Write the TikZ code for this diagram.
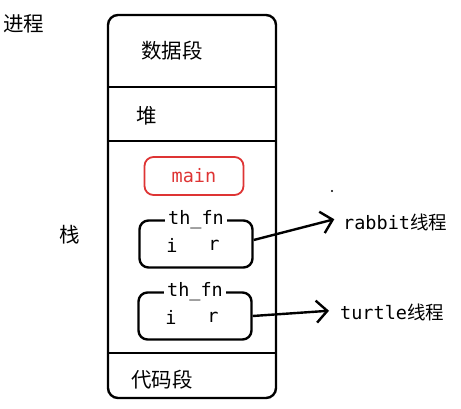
\documentclass[tikz,border=0pt]{standalone}
\usepackage{fontspec}
\setmonofont{DejaVu Sans Mono}
\newfontfamily\cjk{Noto Sans CJK SC}
\usetikzlibrary{arrows.meta}

\definecolor{mainred}{RGB}{222,52,52}

\tikzset{
    seglabel/.style={font=\cjk\fontsize{20.5}{24}\selectfont, inner sep=0pt},
    codetext/.style={font=\ttfamily\fontsize{18.5}{20}\selectfont, inner sep=0pt},
    framebox/.style={draw, line width=2.4pt, rounded corners=9pt,
        minimum width=113pt, minimum height=47pt},
    threadarrow/.style={-{Straight Barb[length=11pt, width=22pt]}, line width=2.4pt}
}

\begin{document}
\begin{tikzpicture}[x=1pt, y=-1pt]
    \useasboundingbox (0,0) rectangle (461,409);
    % memory layout of the process
    \coordinate (TL) at (108,15);
    \coordinate (BR) at (276,398);
    \draw [line width=2.4pt, rounded corners=10pt] (TL) rectangle (BR);
    \coordinate (D1) at (108,87);  \coordinate (D1') at (276,87);
    \coordinate (D2) at (108,141); \coordinate (D2') at (276,141);
    \coordinate (D3) at (108,353); \coordinate (D3') at (276,353);
    \draw [line width=2.4pt] (D1) -- (D1') (D2) -- (D2') (D3) -- (D3');

    \node [seglabel] (proc) at (24,24) {进程};
    \node [seglabel] (data) at (172,51) {数据段};
    \node [seglabel] (heap) at (147,116) {堆};
    \node [seglabel] (stack) at (70,235) {栈};
    \node [seglabel] (code) at (162,380) {代码段};

    % stack frames
    \node [draw=mainred, line width=1.8pt, rounded corners=9pt, minimum width=99pt,
        minimum height=38pt, codetext, text=mainred] (main) at (194,176) {main};
    \node [framebox] (fn1) at (196,244) {};
    \node [framebox] (fn2) at (195,316) {};
    \foreach \f in {fn1, fn2} {
        \node [codetext, fill=white, inner xsep=3pt] at (\f.north) {th\_fn};
        \node [codetext] at ([xshift=-24pt, yshift=-1pt]\f.center) {i};
        \node [codetext] at ([xshift=18pt, yshift=-1pt]\f.center) {r};
    }

    % threads
    \node [codetext, anchor=west] (rabbit) at (343,222) {rabbit{\cjk 线程}};
    \node [codetext, anchor=west] (turtle) at (340,312) {turtle{\cjk 线程}};
    \draw [threadarrow, shorten >=9pt] ([yshift=4pt]fn1.east) -- ([yshift=5pt]rabbit.west);
    \draw [threadarrow, shorten >=11pt] (fn2.east) -- ([yshift=2pt]turtle.west);
    \fill (332,191) circle (1.2pt);
\end{tikzpicture}
\end{document}
